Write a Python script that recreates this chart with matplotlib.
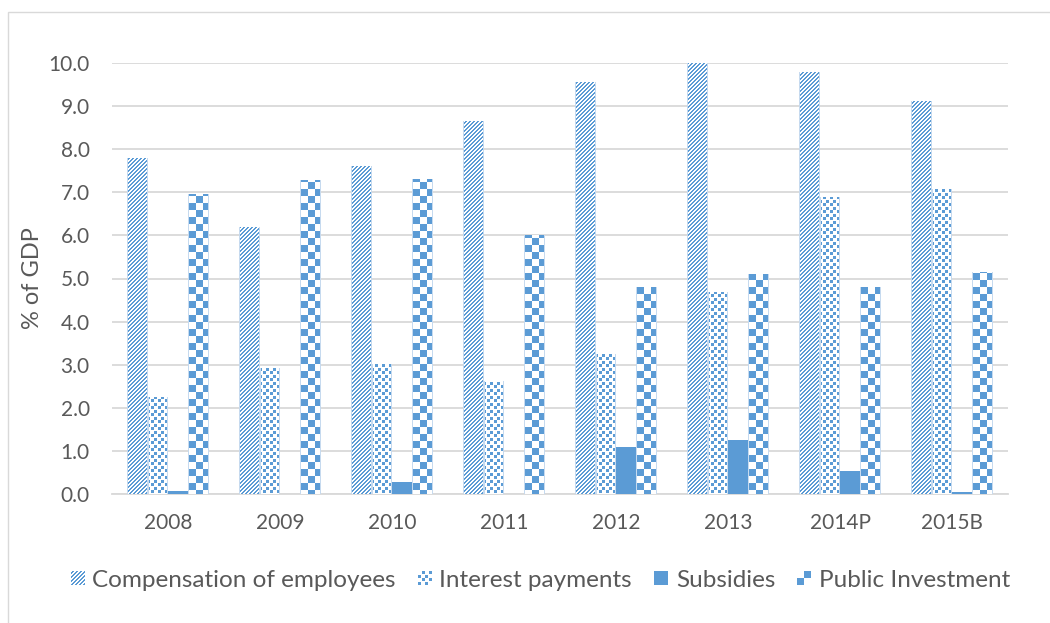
import numpy as np
import matplotlib
matplotlib.use("Agg")
import matplotlib.pyplot as plt
from matplotlib.patches import Rectangle
from matplotlib.legend_handler import HandlerBase
from matplotlib.colors import to_rgba

# Spending components, % of GDP
years = ["2008", "2009", "2010", "2011", "2012", "2013", "2014P", "2015B"]
compensation = [7.8, 6.2, 7.6, 8.65, 9.55, 10.0, 9.8, 9.12]
interest = [2.25, 2.92, 3.02, 2.62, 3.25, 4.68, 6.9, 7.08]
subsidies = [0.07, 0.0, 0.28, 0.0, 1.08, 1.26, 0.54, 0.05]
investment = [6.97, 7.28, 7.32, 6.0, 4.8, 5.1, 4.8, 5.16]

BLUE = "#5b9bd5"
PALE = "#c6daef"
TEXT = "#595959"
FONT = "Lato"


# fill patterns, evaluated on integer pixel grids (y pointing up)
def diag(x, y):
    return ((x - y) % 4) < 2


def confetti(x, y):
    a = ((x % 7) < 3) & ((y % 7) < 3)
    b = (((x - 4) % 7) < 3) & (((y - 4) % 7) < 3)
    return a | b


def checker(x, y):
    return ((x // 7 + y // 7) % 2) == 0


def solid(x, y):
    return np.ones_like(x, dtype=bool)


def to_rgba_img(mask, edge=True):
    img = np.ones(mask.shape + (4,))
    img[mask] = to_rgba(BLUE)
    if edge:
        img[:, 0] = to_rgba(PALE)
        img[:, -1] = to_rgba(PALE)
    return img


class PatternHandler(HandlerBase):
    def __init__(self, func, size_px=14):
        super().__init__()
        self.func = func
        self.size_px = size_px

    def create_artists(self, legend, orig_handle, xdescent, ydescent,
                       width, height, fontsize, trans):
        px = 72.0 / legend.figure.dpi
        n = self.size_px
        side = n * px
        x0 = -xdescent + (width - side) / 2
        y0 = -ydescent + (height - side) / 2
        X, Y = np.meshgrid(np.arange(n), np.arange(n))
        mask = self.func(X, Y)
        arts = [Rectangle((x0, y0), side, side, facecolor="white",
                          edgecolor="none", transform=trans)]
        for j, i in zip(*np.nonzero(mask)):
            arts.append(Rectangle((x0 + i * px, y0 + j * px), px, px,
                                  facecolor=BLUE, edgecolor="none",
                                  antialiased=False, transform=trans))
        return arts


fig = plt.figure(figsize=(10.5, 6.23), dpi=100)
ax = fig.add_axes([112 / 1050, 1 - 494 / 623, 896 / 1050, 431 / 623])
ax.set_xlim(-0.5, len(years) - 0.5)
ax.set_ylim(0, 10)

x = np.arange(len(years))
w = 0.182
series = [
    ("Compensation of employees", compensation, diag),
    ("Interest payments", interest, confetti),
    ("Subsidies", subsidies, solid),
    ("Public Investment", investment, checker),
]

handles = []
for k, (name, vals, func) in enumerate(series):
    bars = ax.bar(x + (k - 1.5) * w, vals, w, facecolor=BLUE,
                  edgecolor="none", zorder=3, label=name)
    # patterned fills go on as pixel-aligned figure images over each bar
    for p in bars.patches:
        h = p.get_height()
        if h <= 0:
            continue
        x0, bw = p.get_x(), p.get_width()
        (px0, py0), (px1, py1) = ax.transData.transform([(x0, 0), (x0 + bw, h)])
        ix0, iy0 = int(round(px0)), int(round(py0))
        nx = max(1, int(round(px1)) - ix0)
        ny = max(1, int(round(py1)) - iy0)
        X, Y = np.meshgrid(np.arange(nx) + ix0, np.arange(ny) + iy0)
        img = to_rgba_img(func(X, Y), edge=func is not solid)
        fig.figimage(img, xo=ix0, yo=iy0, origin="lower", zorder=2)
    handles.append(bars)

ax.set_yticks(np.arange(0, 10.5, 1))
ax.set_yticklabels([f"{v:.1f}" for v in np.arange(0, 10.5, 1)])
ax.set_xticks(x)
ax.set_xticklabels(years)
ax.tick_params(axis="both", length=0, labelsize=15, labelcolor=TEXT)
ax.tick_params(axis="y", pad=16)
ax.tick_params(axis="x", pad=14)
for lbl in ax.get_xticklabels() + ax.get_yticklabels():
    lbl.set_fontfamily(FONT)

ax.grid(axis="y", color="#d9d9d9", linewidth=1.3)
ax.set_axisbelow(True)
for s in ("top", "right", "left"):
    ax.spines[s].set_visible(False)
ax.spines["bottom"].set_color("#d9d9d9")
ax.spines["bottom"].set_linewidth(1.3)
ax.spines["bottom"].set_zorder(4)

ax.set_ylabel("% of GDP", fontsize=17, color=TEXT, family=FONT, labelpad=4)

hmap = {h: PatternHandler(f) for h, (_, _, f) in zip(handles, series)}
leg = ax.legend(handles, [s[0] for s in series], handler_map=hmap,
                loc="center", bbox_to_anchor=(0.478, -0.2), ncol=4,
                frameon=False, prop={"family": FONT, "size": 17.5},
                handlelength=0.6, handleheight=0.6, handletextpad=0.3,
                columnspacing=0.9)
for t in leg.get_texts():
    t.set_color(TEXT)

# outer chart frame
fig.add_artist(Rectangle((7.5 / 1050, -0.05), 1.1, (623 - 11.5) / 623 + 0.05,
                         transform=fig.transFigure, facecolor="none",
                         edgecolor="#d9d9d9", linewidth=1.0, clip_on=False))

fig.savefig("out.png", dpi=100)
